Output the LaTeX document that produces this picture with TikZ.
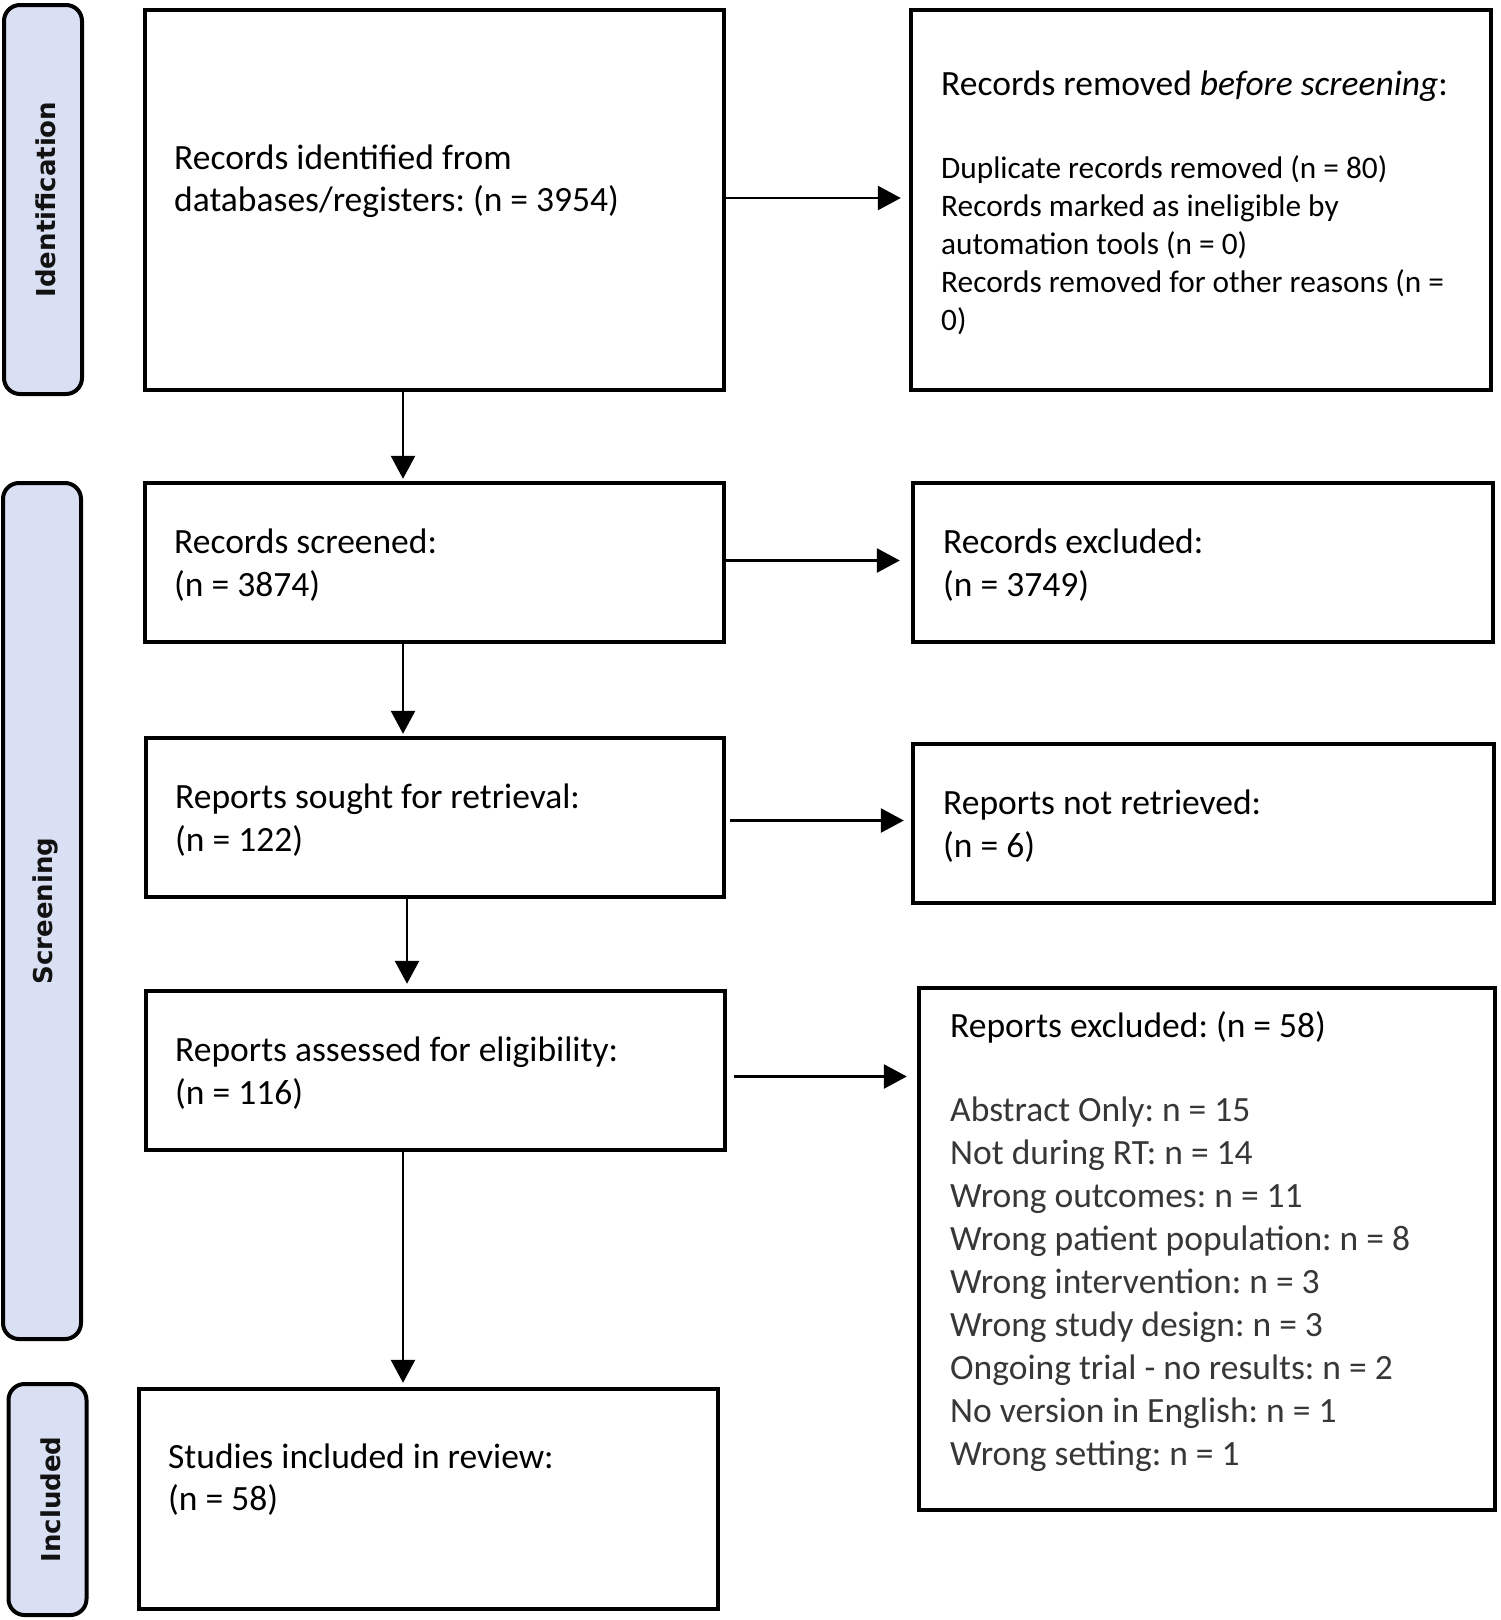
\documentclass[tikz,border=0pt]{standalone}
\usepackage{fontspec}
\setmainfont{Carlito}
\newfontfamily\labelfont{DejaVu Sans}
\usetikzlibrary{arrows.meta,calc}
\definecolor{lav}{RGB}{218,224,243}
\definecolor{listgray}{RGB}{55,55,55}
\frenchspacing
\begin{document}
\frenchspacing
\begin{tikzpicture}[x=1pt,y=-1pt,
  box/.style={draw=black,line width=4.4pt,fill=white,inner sep=0pt},
  stage/.style={draw=black,line width=4pt,fill=lav,rounded corners=16pt,inner sep=0pt},
  stagetext/.style={rotate=90,font=\labelfont\bfseries\fontsize{26pt}{30pt}\selectfont,text=black!93,inner sep=0pt},
  ln/.style={anchor=base west,inner sep=0pt,font=\fontsize{35.5pt}{42pt}\selectfont},
  lns/.style={anchor=base west,inner sep=0pt,font=\fontsize{31.3pt}{38pt}\selectfont},
  lng/.style={ln,text=listgray},
  arr/.style={line width=2.7pt,-{Triangle[length=23pt,width=24pt]}}]
\useasboundingbox (0,0) rectangle (1500,1620);
\fill[white] (0,0) rectangle (1500,1620);
% stage labels
\node[stage,minimum width=78pt,minimum height=389pt] (L1) at (43,199.5) {};
\node[stage,minimum width=78pt,minimum height=856pt] (L2) at (42,911) {};
\node[stage,minimum width=78pt,minimum height=231pt] (L3) at (47.5,1499.5) {};
\node[stagetext] (L1t) at ($(L1.center)+(3,0)$) {Identification};
\node[stagetext] (L2t) at ($(L2.center)+(3,0)$) {Screening};
\node[stagetext] (L3t) at ($(L3.center)+(3,0)$) {Included};
% boxes
\node[box,minimum width=579pt,minimum height=380pt] (b1) at (434.5,200) {};
\node[box,minimum width=580pt,minimum height=380pt] (r1) at (1201,200) {};
\node[box,minimum width=579pt,minimum height=159pt] (b2) at (434.5,562.5) {};
\node[box,minimum width=580pt,minimum height=159pt] (r2) at (1203,562.5) {};
\node[box,minimum width=578pt,minimum height=159pt] (b3) at (435,817.5) {};
\node[box,minimum width=581pt,minimum height=159pt] (r3) at (1203.5,823.5) {};
\node[box,minimum width=579pt,minimum height=159pt] (b4) at (435.5,1070.5) {};
\node[box,minimum width=576pt,minimum height=522pt] (r4) at (1207,1249) {};
\node[box,minimum width=579pt,minimum height=220pt] (b5) at (428.5,1499) {};
% texts
\node[ln] (t1a) at (174,169) {Records identified from};
\node[ln] (t1b) at (174,211) {databases/registers: (n = 3954)};
\node[ln] (u1a) at (941,95) {Records removed \textit{before screening}:};
\node[lns] (u1b) at (941,178) {Duplicate records removed (n = 80)};
\node[lns] (u1c) at (941,216) {Records marked as ineligible by};
\node[lns] (u1d) at (941,254) {automation tools (n = 0)};
\node[lns] (u1e) at (941,292) {Records removed for other reasons (n =};
\node[lns] (u1f) at (941,330) {0)};
\node[ln] (t2a) at (174,553) {Records screened:};
\node[ln] (t2b) at (174,596) {(n = 3874)};
\node[ln] (u2a) at (943,553) {Records excluded:};
\node[ln] (u2b) at (943,596) {(n = 3749)};
\node[ln] (t3a) at (175,808) {Reports sought for retrieval:};
\node[ln] (t3b) at (175,851) {(n = 122)};
\node[ln] (u3a) at (943,814) {Reports not retrieved:};
\node[ln] (u3b) at (943,857) {(n = 6)};
\node[ln] (t4a) at (175,1061) {Reports assessed for eligibility:};
\node[ln] (t4b) at (175,1104) {(n = 116)};
\node[ln] (u4a) at (950,1037) {Reports excluded: (n = 58)};
\node[lng] (u4b) at (950,1121) {Abstract Only: n = 15};
\node[lng] (u4c) at (950,1164) {Not during RT: n = 14};
\node[lng] (u4d) at (950,1207) {Wrong outcomes: n = 11};
\node[lng] (u4e) at (950,1250) {Wrong patient population: n = 8};
\node[lng] (u4f) at (950,1293) {Wrong intervention: n = 3};
\node[lng] (u4g) at (950,1336) {Wrong study design: n = 3};
\node[lng] (u4h) at (950,1379) {Ongoing trial - no results: n = 2};
\node[lng] (u4i) at (950,1422) {No version in English: n = 1};
\node[lng] (u4j) at (950,1465) {Wrong setting: n = 1};
\node[ln] (t5a) at (168,1468) {Studies included in review:};
\node[ln] (t5b) at (168,1510) {(n = 58)};
% connectors
\coordinate (vx) at (403,0);
\coordinate (vy) at (407,0);
\coordinate (s1) at ($(b1.east)+(0,-2)$);
\coordinate (s2) at ($(b2.east)+(0,-2)$);
\coordinate (s3) at ($(b3.east)+(0,3)$);
\coordinate (s4) at ($(b4.east)+(0,6)$);
\draw[arr,shorten >=8pt] (s1) -- (s1 -| r1.west);
\draw[arr,shorten >=11pt] (s2) -- (s2 -| r2.west);
\draw[arr,shorten <=4pt,shorten >=7pt] (s3) -- (s3 -| r3.west);
\draw[arr,shorten <=7pt,shorten >=10pt] (s4) -- (s4 -| r4.west);
\draw[arr,shorten >=2pt] (b1.south -| vx) -- (b2.north -| vx);
\draw[arr,shorten >=2pt] (b2.south -| vx) -- (b3.north -| vx);
\draw[arr,shorten >=5pt] (b3.south -| vy) -- (b4.north -| vy);
\draw[arr,shorten >=4pt] (b4.south -| vx) -- (b5.north -| vx);
\end{tikzpicture}
\end{document}
